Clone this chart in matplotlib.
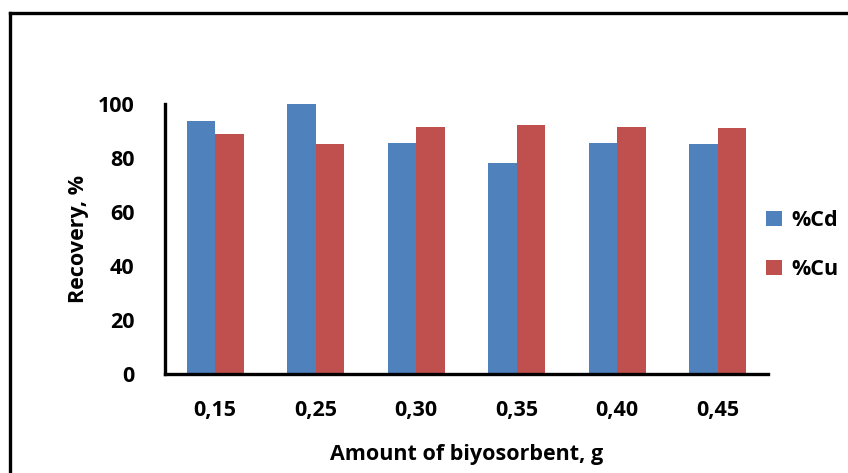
import matplotlib
matplotlib.use("Agg")
import matplotlib.pyplot as plt
import numpy as np
from matplotlib.lines import Line2D

categories = ["0,15", "0,25", "0,30", "0,35", "0,40", "0,45"]
cd = [93.7, 100.0, 85.4, 78.3, 85.4, 85.0]
cu = [88.8, 85.1, 91.3, 92.2, 91.3, 91.1]
series_names = ["%Cd", "%Cu"]
colors = ["#4F81BD", "#C0504D"]

plt.rcParams['font.family'] = ['Open Sans', 'DejaVu Sans']
plt.rcParams['font.weight'] = 'bold'
FS = 15.5

fig = plt.figure(figsize=(8.48, 4.73), dpi=100)
W, H = 848, 473
ax = fig.add_axes([165/W, 1-374/H, (768-165)/W, (374-104)/H])

x = np.arange(len(categories))
bw = 0.2857
ax.bar(x - bw/2, cd, bw, color=colors[0], label=series_names[0])
ax.bar(x + bw/2, cu, bw, color=colors[1], label=series_names[1])

ax.set_xlim(-0.5, len(categories) - 0.5)
ax.set_ylim(0, 100)
ax.set_yticks([0, 20, 40, 60, 80, 100])
ax.set_xticks(x)
ax.set_xticklabels(categories)
ax.tick_params(axis='both', length=0, labelsize=FS)
ax.tick_params(axis='x', pad=19)
ax.tick_params(axis='y', pad=22)
for lab in ax.get_xticklabels() + ax.get_yticklabels():
    lab.set_fontweight('bold')
for s in ['top', 'right']:
    ax.spines[s].set_visible(False)
for s in ['left', 'bottom']:
    ax.spines[s].set_linewidth(2.4)
    ax.spines[s].set_color('black')

ax.set_xlabel("Amount of biyosorbent, g", fontsize=FS, fontweight='bold', labelpad=16)
ax.set_ylabel("Recovery, %", fontsize=FS, fontweight='bold', labelpad=6)

leg = ax.legend(loc='center left', bbox_to_anchor=(0.965, 0.478), frameon=False,
                fontsize=FS, handlelength=0.75, handleheight=0.75,
                handletextpad=0.4, labelspacing=1.3)
for t in leg.get_texts():
    t.set_fontweight('bold')

# figure frame (left and top edges)
fig.add_artist(Line2D([10/W, 10/W], [0, 1-13/H], transform=fig.transFigure,
                      color='black', lw=2.4, solid_capstyle='projecting'))
fig.add_artist(Line2D([10/W, 1], [1-13/H, 1-13/H], transform=fig.transFigure,
                      color='black', lw=2.4, solid_capstyle='projecting'))

fig.savefig("out.png", dpi=100)
